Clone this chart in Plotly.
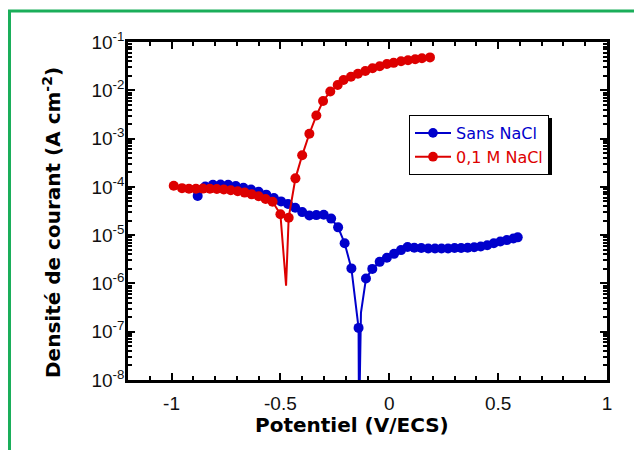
import plotly.graph_objects as go

# ---------------- data ----------------
sans_E = [-0.88, -0.845, -0.81, -0.775, -0.74, -0.705, -0.67, -0.635, -0.60, -0.565,
          -0.53, -0.497, -0.465, -0.432, -0.400, -0.367, -0.335, -0.301, -0.267, -0.235,
          -0.205, -0.174, -0.141, -0.107, -0.078, -0.044, -0.011, 0.022, 0.054, 0.084,
          0.115, 0.147, 0.179, 0.21, 0.24, 0.27, 0.30, 0.33, 0.36, 0.39,
          0.42, 0.45, 0.48, 0.51, 0.54, 0.57, 0.59]
sans_I = [6.5e-5, 1.02e-4, 1.1e-4, 1.12e-4, 1.1e-4, 1.04e-4, 9.6e-5, 8.8e-5, 7.9e-5, 6.9e-5,
          5.9e-5, 5.0e-5, 4.4e-5, 3.7e-5, 3.0e-5, 2.55e-5, 2.6e-5, 2.65e-5, 2.2e-5, 1.45e-5,
          6.8e-6, 2.05e-6, 1.2e-7, 1.26e-6, 2.0e-6, 2.8e-6, 3.4e-6, 4.1e-6, 4.9e-6, 5.7e-6,
          5.5e-6, 5.4e-6, 5.3e-6, 5.3e-6, 5.3e-6, 5.3e-6, 5.4e-6, 5.4e-6, 5.5e-6, 5.6e-6,
          5.8e-6, 6.2e-6, 6.8e-6, 7.4e-6, 7.9e-6, 8.5e-6, 9.0e-6]
# curve-only points near the corrosion potential (no marker)
sans_cusp_E = [-0.139, -0.130]
sans_cusp_I = [1e-9, 2.5e-7]

nacl_E = [-0.99, -0.952, -0.92, -0.888, -0.856, -0.824, -0.792, -0.76, -0.728, -0.696,
          -0.664, -0.632, -0.60, -0.568, -0.536, -0.500, -0.462, -0.431, -0.40, -0.367,
          -0.335, -0.304, -0.271, -0.237, -0.21, -0.176, -0.144, -0.11, -0.077, -0.044,
          -0.011, 0.02, 0.054, 0.086, 0.119, 0.15, 0.187]
nacl_I = [1.05e-4, 9.4e-5, 9.1e-5, 9.1e-5, 9.2e-5, 9.1e-5, 9.0e-5, 8.8e-5, 8.5e-5, 8.1e-5,
          7.6e-5, 7.0e-5, 6.4e-5, 5.6e-5, 4.9e-5, 2.7e-5, 2.3e-5, 1.5e-4, 4.5e-4, 1.26e-3,
          3.0e-3, 6.0e-3, 9.4e-3, 1.29e-2, 1.63e-2, 1.9e-2, 2.2e-2, 2.5e-2, 2.85e-2, 3.15e-2,
          3.5e-2, 3.7e-2, 4.0e-2, 4.2e-2, 4.4e-2, 4.6e-2, 4.8e-2]
nacl_cusp_E = [-0.474]
nacl_cusp_I = [9e-7]

x_tickvals = [-1, -0.5, 0, 0.5, 1]
x_ticktext = ["-1", "-0.5", "0", "0.5", "1"]
y_exponents = [-8, -7, -6, -5, -4, -3, -2, -1]

series_names = ["Sans NaCl", "0,1 M NaCl"]
BLUE = "#0000cc"
RED = "#dd0000"
MSIZE = 10


def merged(E, I, cE, cI, msize):
    pts = [(e, i, msize) for e, i in zip(E, I)] + [(e, i, 0) for e, i in zip(cE, cI)]
    pts.sort(key=lambda p: p[0])
    return [p[0] for p in pts], [p[1] for p in pts], [p[2] for p in pts]


fig = go.Figure()
for (E, I, cE, cI), name, col in [
    ((sans_E, sans_I, sans_cusp_E, sans_cusp_I), series_names[0], BLUE),
    ((nacl_E, nacl_I, nacl_cusp_E, nacl_cusp_I), series_names[1], RED),
]:
    xs, ys, ss = merged(E, I, cE, cI, MSIZE)
    fig.add_trace(go.Scatter(
        x=xs, y=ys, mode="lines+markers",
        name=f'<span style="color:{col}">{name}</span>',
        line=dict(color=col, width=2),
        marker=dict(color=col, size=ss, opacity=1, line=dict(width=0)),
    ))

TICKFONT = dict(family="Liberation Sans, Arial", size=19, color="#111")
axis_common = dict(
    showline=True, linecolor="black", linewidth=2.5, mirror="allticks",
    ticks="inside", tickcolor="black", tickwidth=2, ticklen=7,
    showgrid=False, zeroline=False, tickfont=TICKFONT,
)
fig.update_xaxes(
    range=[-1.2, 1], tickmode="array", tickvals=x_tickvals, ticktext=x_ticktext,
    ticklabelstandoff=4,
    minor=dict(ticks="inside", dtick=0.1, tick0=0, ticklen=4, tickwidth=2, tickcolor="black", showgrid=False),
    **axis_common,
)
fig.update_yaxes(
    type="log", range=[-8, -1], tickmode="array",
    tickvals=[10.0 ** e for e in y_exponents],
    ticktext=[f"10<sup>{e}</sup>" for e in y_exponents],
    ticklabelstandoff=-3,
    minor=dict(ticks="inside", dtick="D1", ticklen=4, tickwidth=1.5, tickcolor="black", showgrid=False),
    **axis_common,
)

# paper coordinate helpers (plot area 128..607 x 42..380 px)
def px(x):
    return (x - 128) / 479.0

def py(y):
    return (380 - y) / 338.0

fig.add_annotation(text="<b>Potentiel (V/ECS)</b>", xref="paper", yref="paper",
                   x=px(352), y=py(425), showarrow=False, xanchor="center", yanchor="middle",
                   font=dict(family="DejaVu Sans", size=20, color="black"))
fig.add_annotation(text="<b>Densité de courant (A cm<sup>-2</sup>)</b>", xref="paper", yref="paper",
                   x=px(52), y=py(223), showarrow=False, textangle=-90,
                   xanchor="center", yanchor="middle",
                   font=dict(family="DejaVu Sans", size=20, color="black"))

# legend shadow
fig.add_shape(type="rect", xref="paper", yref="paper",
              x0=px(412), x1=px(552), y0=py(175), y1=py(118),
              fillcolor="black", line=dict(width=0), layer="above")
# green frame (left and top edges)
fig.add_shape(type="line", xref="paper", yref="paper", x0=px(9.5), x1=px(9.5), y0=py(470), y1=py(11),
              line=dict(color="#1aae5a", width=3))
fig.add_shape(type="line", xref="paper", yref="paper", x0=px(8), x1=px(650), y0=py(11), y1=py(11),
              line=dict(color="#1aae5a", width=3))

fig.update_layout(
    width=634, height=450,
    margin=dict(l=128, r=27, t=42, b=70),
    paper_bgcolor="white", plot_bgcolor="white",
    showlegend=True,
    legend=dict(x=px(409), y=py(115), xanchor="left", yanchor="top",
                bgcolor="white", bordercolor="black", borderwidth=1,
                font=dict(family="DejaVu Sans", size=16), tracegroupgap=0,
                itemwidth=36),
)

fig.write_html("out.html")
